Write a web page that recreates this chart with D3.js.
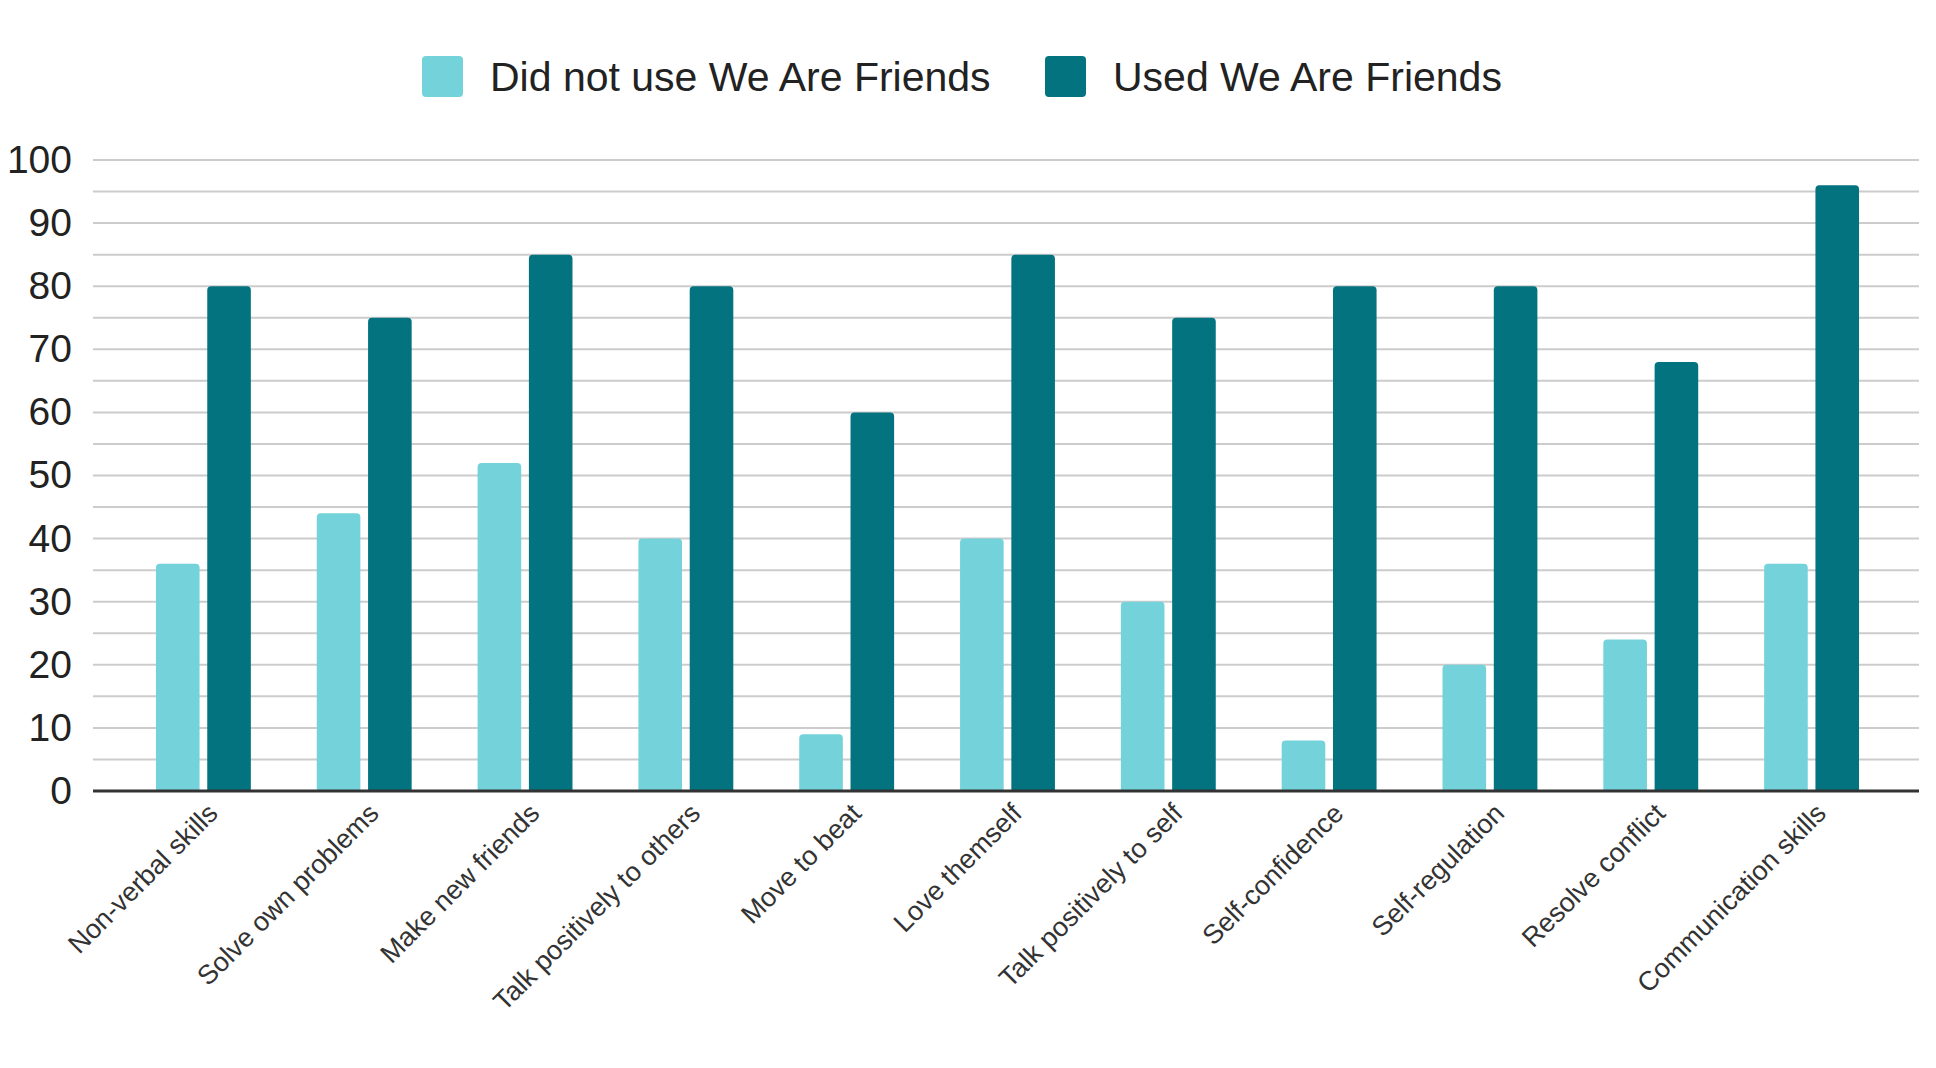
<!DOCTYPE html>
<html>
<head>
<meta charset="utf-8">
<script src="https://cdn.jsdelivr.net/npm/d3@7"></script>
<style>
  html, body { margin: 0; padding: 0; background: #fff; }
  text { font-family: Helvetica, Arial, "Liberation Sans", sans-serif; }
</style>
</head>
<body>
<div id="canvas"></div>
<script>
var w = 1936;
var h = 1068;

var categories = ["Non-verbal skills", "Solve own problems", "Make new friends",
  "Talk positively to others", "Move to beat", "Love themself", "Talk positively to self",
  "Self-confidence", "Self-regulation", "Resolve conflict", "Communication skills"];
var seriesNames = ["Did not use We Are Friends", "Used We Are Friends"];
var didNotUse = [36, 44, 52, 40, 9, 40, 30, 8, 20, 24, 36];
var used = [80, 75, 85, 80, 60, 85, 75, 80, 80, 68, 96];
var yTicks = [0, 10, 20, 30, 40, 50, 60, 70, 80, 90, 100];

var colors = ["#73d2da", "#047380"];

var data = categories.map(function(c, i) {
    return { cat: c, values: [didNotUse[i], used[i]] };
});

var svg = d3.select("#canvas")
    .append("svg")
    .attr("width", w)
    .attr("height", h)
    .style("background-color", "white");

var left = 93, right = 1919;

var yScale = d3.scaleLinear()
    .domain([0, 100])
    .range([791, 160]);

var x0 = d3.scaleBand()
    .domain(categories)
    .range([123, 1892])
    .paddingInner(0.41)
    .paddingOuter(0.205);

var x1 = d3.scaleBand()
    .domain([0, 1])
    .range([0, x0.bandwidth()])
    .paddingInner(0.15);

// gridlines every 5
var grid = d3.range(5, 101, 5);
svg.append("g")
    .selectAll("line")
    .data(grid)
    .join("line")
    .attr("x1", left)
    .attr("x2", right)
    .attr("y1", d => yScale(d))
    .attr("y2", d => yScale(d))
    .attr("stroke", "#cccccc")
    .attr("stroke-width", 2);

// y labels
var yAxis = d3.axisLeft(yScale)
    .tickValues(yTicks)
    .tickSize(0)
    .tickPadding(0);

var yg = svg.append("g")
    .attr("transform", "translate(72,0)")
    .call(yAxis);
yg.select(".domain").remove();
yg.selectAll("text")
    .attr("fill", "#222")
    .style("font-size", "39px")
    .style("font-family", "Helvetica, Arial, 'Liberation Sans', sans-serif");

// bars with rounded tops
function barPath(x, y, bw, bh, r) {
    r = Math.min(r, bh);
    return "M" + x + "," + (y + bh) +
        "V" + (y + r) +
        "Q" + x + "," + y + " " + (x + r) + "," + y +
        "H" + (x + bw - r) +
        "Q" + (x + bw) + "," + y + " " + (x + bw) + "," + (y + r) +
        "V" + (y + bh) + "Z";
}

var groups = svg.append("g")
    .selectAll("g")
    .data(data)
    .join("g")
    .attr("transform", d => "translate(" + x0(d.cat) + ",0)");

groups.selectAll("path")
    .data(d => d.values)
    .join("path")
    .attr("d", function(v, i) {
        var y = yScale(v);
        return barPath(x1(i), y, x1.bandwidth(), yScale(0) - y, 4);
    })
    .attr("fill", (v, i) => colors[i]);

// baseline
svg.append("line")
    .attr("x1", left)
    .attr("x2", right)
    .attr("y1", yScale(0))
    .attr("y2", yScale(0))
    .attr("stroke", "#333")
    .attr("stroke-width", 3);

// x labels rotated
var xAxis = d3.axisBottom(x0).tickSize(0).tickPadding(0);
var xg = svg.append("g")
    .attr("transform", "translate(0," + yScale(0) + ")")
    .call(xAxis);
xg.select(".domain").remove();
xg.selectAll("text")
    .attr("text-anchor", "end")
    .attr("fill", "#333")
    .attr("dy", 0)
    .attr("y", 0)
    .attr("transform", "translate(16,24) rotate(-45)")
    .style("font-size", "27px")
    .style("font-family", "Helvetica, Arial, 'Liberation Sans', sans-serif");

// legend
var legendX = [422, 1045];
var legend = svg.append("g");
var items = legend.selectAll("g")
    .data(seriesNames)
    .join("g")
    .attr("transform", (d, i) => "translate(" + legendX[i] + ",56)");

items.append("rect")
    .attr("width", 41)
    .attr("height", 41)
    .attr("rx", 4)
    .attr("fill", (d, i) => colors[i]);

items.append("text")
    .attr("x", 68)
    .attr("y", 35)
    .attr("fill", "#222")
    .style("font-size", "41px")
    .text(d => d);
</script>
</body>
</html>
